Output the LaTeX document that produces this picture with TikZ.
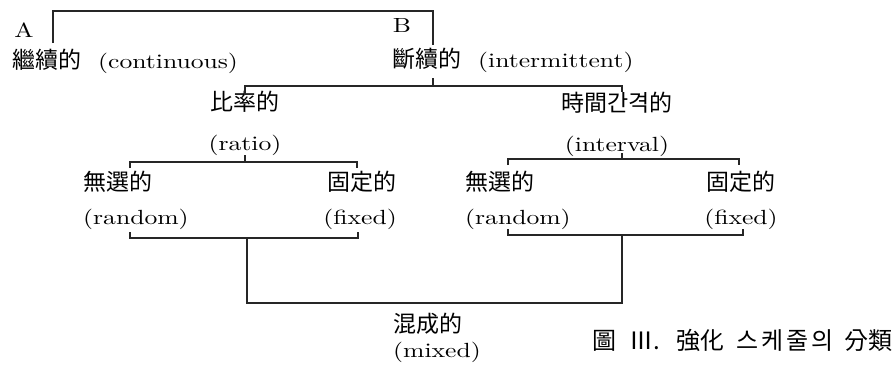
\documentclass[tikz,border=0pt]{standalone}
\usepackage{fontspec}
\newfontfamily\cjk{Noto Sans CJK KR}
\newfontfamily\lmr{lmroman10-regular.otf}[FakeStretch=1.25]
\newcommand\latfont{\lmr\fontsize{20.5}{40}\selectfont}
\newcommand\cj{\cjk\fontsize{23}{40}\selectfont}
\newcommand\capfont{\cjk\fontsize{24}{40}\selectfont}
\tikzset{
  lbl/.style={inner sep=0pt, font=\latfont, text=black},
  conn/.style={line width=1.3pt, draw=black!85},
}
\begin{document}
\begin{tikzpicture}[x=1pt,y=-1pt]
\useasboundingbox (0,0) rectangle (895,372);
% labels
\node[lbl] (A) at (24,30) {A};
\node[lbl] (B) at (402,25) {B};
\node[lbl,anchor=west] (cont) at (12,61) {{\cj 繼續的}\hspace{17pt}(continuous)};
\node[lbl,anchor=west] (inter) at (392,60) {{\cj 斷續的}\hspace{17pt}(intermittent)};
\node[lbl,align=center] (ratio) at (245,123) {{\cj 比率的}\\(ratio)};
\node[lbl,align=center] (interval) at (617,124) {{\cj 時間간격的}\\(interval)};
\node[lbl,align=left,anchor=west] (r1) at (83,200) {{\cj 無選的}\\[-6pt](random)};
\node[lbl,align=right,anchor=east] (f1) at (397,200) {{\cj 固定的}\\[-6pt](fixed)};
\node[lbl,align=left,anchor=west] (r2) at (465,200) {{\cj 無選的}\\[-6pt](random)};
\node[lbl,align=center] (f2) at (741,200) {{\cj 固定的}\\[-6pt](fixed)};
\node[lbl,align=left,anchor=west] (mixed) at (393,338) {{\cj 混成的}\\[-15pt](mixed)};
\node[lbl,anchor=west,font=\capfont] (cap) at (592,340) {\makebox[37pt][l]{圖}\makebox[47pt][l]{Ⅲ.}\makebox[60pt][l]{強化}\makebox[25pt][l]{스}\makebox[25pt][l]{케}\makebox[25pt][l]{줄}\makebox[33pt][l]{의}分類};
% connectors
\coordinate (ctop) at (53,43);
\coordinate (itop) at (433,45);
\draw[conn] (ctop) -- (53,11) -- (433,11) -- (itop);
\coordinate (ibot) at (433,78);
\coordinate (rtop) at (245,95);
\coordinate (vtop) at (622,92);
\draw[conn] (ibot) -- (433,86);
\draw[conn] (rtop) -- (245,86) -- (622,86) -- (vtop);
% ratio bracket
\coordinate (rb) at (245,155);
\draw[conn] (rb) -- (245,162);
\draw[conn] (130,168) -- (130,162) -- (357,162) -- (357,168);
\draw[conn] (130,232) -- (130,238) -- (358,238) -- (358,232);
% interval bracket
\coordinate (vb) at (622,153);
\draw[conn] (vb) -- (622,159);
\draw[conn] (508,165) -- (508,159) -- (739,159) -- (739,165);
\draw[conn] (508,229) -- (508,235) -- (743,235) -- (743,229);
% mixed
\draw[conn] (247,238) -- (247,303) -- (622,303) -- (622,235);
\end{tikzpicture}
\end{document}
